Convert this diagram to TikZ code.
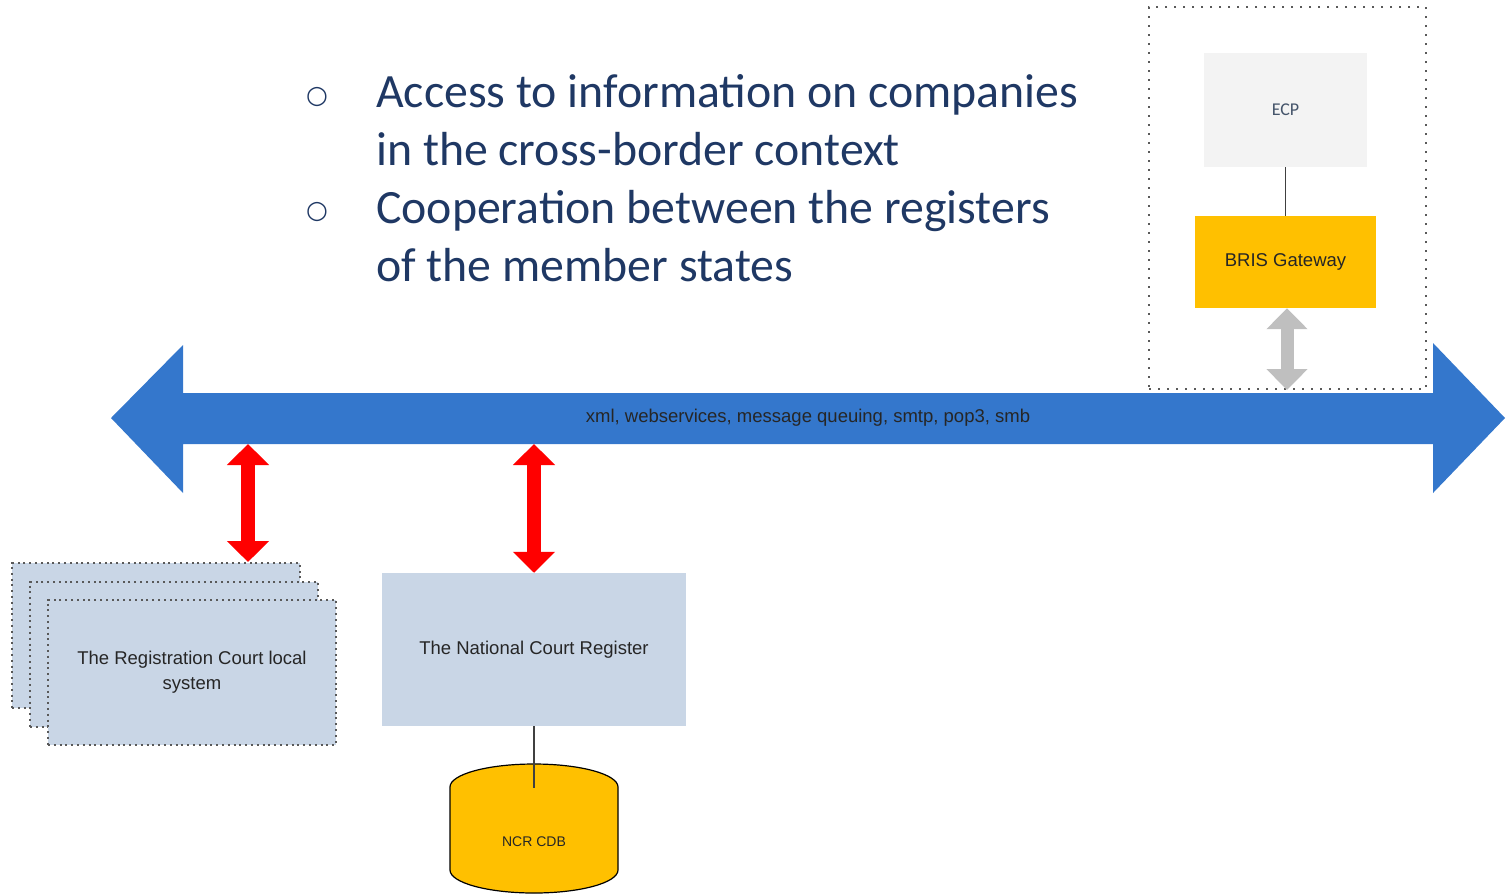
\documentclass[tikz,border=0pt]{standalone}
\usepackage{fontspec}
\setmainfont{Carlito}
\newfontfamily\arialfont{Liberation Sans}
\newfontfamily\dejafont{DejaVu Sans}
\usetikzlibrary{arrows.meta}
\usetikzlibrary{positioning}

\definecolor{navytext}{HTML}{1F3864}
\definecolor{busblue}{HTML}{3477CC}
\definecolor{boxblue}{HTML}{C9D6E6}
\definecolor{ecpgray}{HTML}{F3F3F3}
\definecolor{ecptext}{HTML}{44546A}
\definecolor{amber}{HTML}{FFC000}
\definecolor{tapgray}{HTML}{BFBFBF}
\definecolor{dotgray}{HTML}{595959}

\tikzset{
    bulletmark/.style={inner sep=0pt, text=navytext, font=\dejafont\fontsize{25}{25}\selectfont},
    bullettext/.style={inner sep=0pt, anchor=base west, align=left, text=navytext,
        font=\fontsize{47.8}{58}\selectfont},
    label/.style={inner sep=0pt, align=center, text=black!85, font=\arialfont\fontsize{18.5}{25}\selectfont},
    regbox/.style={label, fill=boxblue, draw=dotgray, line width=2pt,
        dash pattern=on 2pt off 3.8pt, minimum width=288pt, minimum height=145pt},
    ncrbox/.style={label, fill=boxblue, minimum width=304pt, minimum height=153pt},
    ecpbox/.style={inner sep=0pt, fill=ecpgray, text=ecptext, font=\fontsize{18}{18}\selectfont,
        minimum width=163pt, minimum height=114pt},
    brisbox/.style={label, fill=amber, minimum width=181pt, minimum height=92pt},
    gwframe/.style={draw=dotgray, line width=2pt, dash pattern=on 2pt off 7pt,
        minimum width=277pt, minimum height=382pt},
    redtap/.style={draw=red, line width=14pt, {Triangle[width=41pt,length=21pt]}-{Triangle[width=41pt,length=21pt]}},
    graytap/.style={draw=tapgray, line width=13pt, {Triangle[width=40pt,length=21pt]}-{Triangle[width=40pt,length=21pt]}},
    link/.style={draw=black!75, line width=1.5pt},
}

\begin{document}
\begin{tikzpicture}[x=1pt, y=-1pt]
    \useasboundingbox (0,0) rectangle (1506,895);

    % bullet list
    \node[bulletmark] (mark1) at (317,97) {○};
    \node[bulletmark] (mark2) at (317,212) {○};
    \node[bullettext] (item1) at (376,165) {Access to information on companies\\in the cross-border context};
    \node[bullettext] (item2) at (376,281) {Cooperation between the registers\\of the member states};

    % message bus
    \fill[busblue] (111,418) -- (183,345) -- (183,393) -- (1433,393) -- (1433,343)
        -- (1505,418) -- (1433,493) -- (1433,444) -- (183,444) -- (183,493) -- cycle;
    \node[label] (bus) at (808,418) {xml, webservices, message queuing, smtp, pop3, smb};

    % gateway side
    \node[gwframe] (frame) at (1287.5,198) {};
    \node[ecpbox] (ecp) at (1285.5,110) {ECP};
    \node[brisbox] (bris) at (1285.5,262) {BRIS Gateway};
    \draw[link] (ecp) -- (bris);
    \coordinate (gwtap) at (1287,390);
    \draw[graytap] (bris.south -| gwtap) -- (gwtap);

    % local systems
    \node[regbox] (regA) at (156,635.5) {};
    \node[regbox] (regB) at (174,654) {};
    \node[regbox] (regC) at (192,672) {The Registration Court local\\system};
    \coordinate (regtap) at (248,444);
    \draw[redtap] (regtap) -- (regtap |- regA.north);

    % national register
    \node[ncrbox] (ncr) at (534,649.5) {The National Court Register};
    \coordinate (ncrtap) at (534,444);
    \draw[redtap] (ncrtap) -- (ncr.north);

    % database
    \filldraw[fill=amber, draw=black, line width=1.2pt] (450,787)
        arc[start angle=180, end angle=0, x radius=84pt, y radius=23pt] -- (618,870)
        arc[start angle=0, end angle=-180, x radius=84pt, y radius=23pt] -- cycle;
    \node[label, font=\arialfont\fontsize{14}{14}\selectfont] (cdb) at (534,842) {NCR CDB};
    \coordinate (cdbtop) at (534,788);
    \draw[link] (ncr.south) -- (cdbtop);
\end{tikzpicture}
\end{document}
